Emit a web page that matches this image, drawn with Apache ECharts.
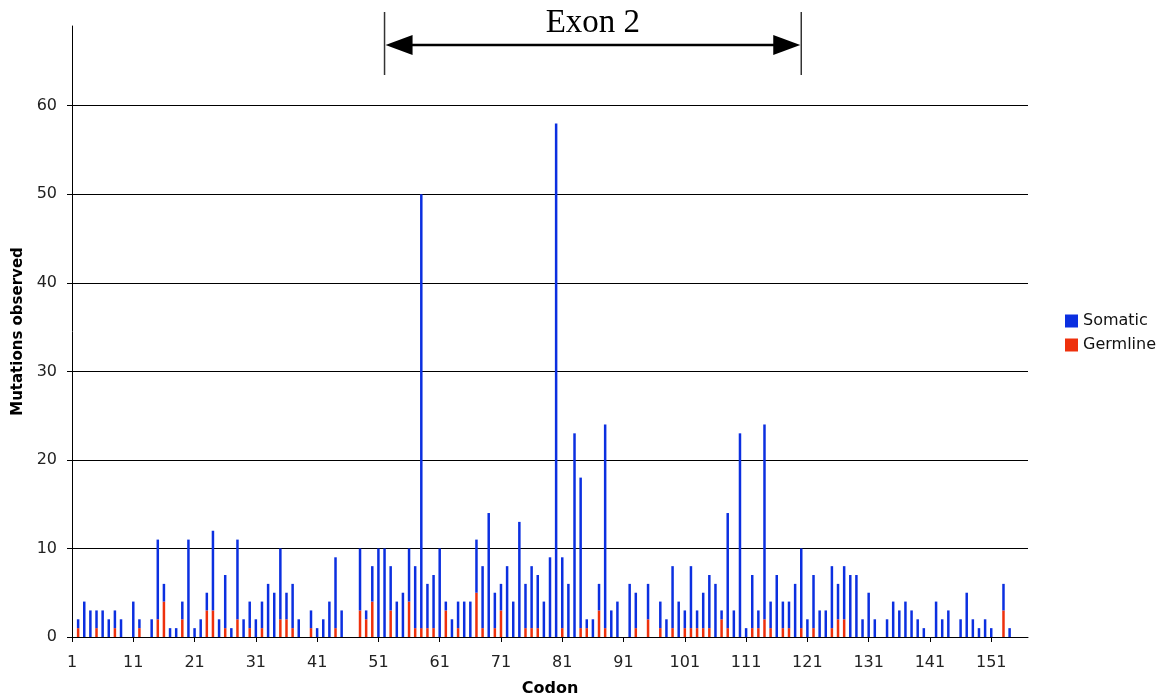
<!DOCTYPE html>
<html>
<head>
<meta charset="utf-8">
<script src="https://cdn.jsdelivr.net/npm/echarts@6/dist/echarts.min.js"></script>
<style>html,body{margin:0;padding:0;background:#fff}#c{width:1169px;height:696px}</style>
</head>
<body>
<div id="c"></div>
<script>
// Codons 1..157
const codons = Array.from({length: 157}, (_, i) => String(i + 1));
const somatic = [
  0,1,4,3,2,3,2,2,2,0,
  4,1,0,2,9,2,1,1,2,11,
  1,2,2,9,2,6,1,9,2,3,
  2,3,6,5,8,3,5,2,0,2,
  1,2,4,8,3,0,0,7,1,4,
  10,10,5,4,5,6,7,49,5,6,
  10,1,2,3,4,4,6,7,14,4,
  3,8,4,13,5,7,6,4,9,58,
  8,6,23,17,1,2,3,23,3,4,
  0,6,4,0,4,0,3,2,7,4,
  2,7,2,4,6,6,1,13,3,23,
  1,6,2,22,3,7,3,3,6,9,
  2,6,3,3,7,4,6,7,7,2,
  5,2,0,2,4,3,4,3,2,1,
  0,4,2,3,0,2,5,2,1,2,
  1,0,3,1,0,0,0
];
const germline = [
  0,1,0,0,1,0,0,1,0,0,
  0,1,0,0,2,4,0,0,2,0,
  0,0,3,3,0,1,0,2,0,1,
  0,1,0,0,2,2,1,0,0,1,
  0,0,0,1,0,0,0,3,2,4,
  0,0,3,0,0,4,1,1,1,1,
  0,3,0,1,0,0,5,1,0,1,
  3,0,0,0,1,1,1,0,0,0,
  1,0,0,1,1,0,3,1,0,0,
  0,0,1,0,2,0,1,0,1,0,
  1,1,1,1,1,0,2,1,0,0,
  0,1,1,2,1,0,1,1,0,1,
  0,1,0,0,1,2,2,0,0,0,
  0,0,0,0,0,0,0,0,0,0,
  0,0,0,0,0,0,0,0,0,0,
  0,0,3,0,0,0,0
];
const yTicks = [0, 10, 20, 30, 40, 50, 60];
const exonSpan = ['52', '120'];
const exonLabel = 'Exon 2';

const BLUE = '#0b2fe0';
const RED = '#ee300c';
const chart = echarts.init(document.getElementById('c'), null, {renderer: 'canvas'});
const option = {
  animation: false,
  textStyle: {fontFamily: 'DejaVu Sans'},
  grid: {left: 72, right: 141, top: 26, bottom: 59, containLabel: false, outerBoundsMode: 'none'},
  legend: {
    orient: 'vertical', left: 1060, top: 307,
    itemWidth: 13, itemHeight: 13, itemGap: 6,
    icon: 'rect',
    data: ['Somatic', 'Germline'],
    textStyle: {fontFamily: 'DejaVu Sans', fontSize: 16, lineHeight: 18, color: '#111'}
  },
  xAxis: {
    type: 'category', data: codons, boundaryGap: false,
    name: 'Codon', nameLocation: 'middle', nameGap: 44,
    nameTextStyle: {fontFamily: 'DejaVu Sans', fontWeight: 'bold', fontSize: 16, color: '#000'},
    axisLine: {lineStyle: {color: '#000', width: 1}},
    axisTick: {interval: 9, length: 5, lineStyle: {color: '#000'}},
    axisLabel: {interval: 9, fontSize: 16, color: '#222', margin: 18},
    splitLine: {show: false}
  },
  yAxis: {
    type: 'value', min: 0, max: 69,
    name: 'Mutations observed', nameLocation: 'middle', nameGap: 43, nameRotate: 90,
    nameTextStyle: {fontFamily: 'DejaVu Sans', fontWeight: 'bold', fontSize: 15, color: '#000'},
    axisLine: {show: true, lineStyle: {color: '#000', width: 1}},
    axisTick: {show: true, length: 5, customValues: yTicks, lineStyle: {color: '#000'}},
    axisLabel: {fontSize: 16, color: '#222', margin: 15, customValues: yTicks, padding: [4, 0, 0, 0]},
    splitLine: {show: true, lineStyle: {color: '#000', width: 1}}
  },
  series: [
    {name: 'Germline', type: 'bar', stack: 'm', data: germline, barWidth: 2.5,
     itemStyle: {color: RED}},
    {name: 'Somatic', type: 'bar', stack: 'm', data: somatic, barWidth: 2.5,
     itemStyle: {color: BLUE}}
  ]
};
chart.setOption(option);

// Exon annotation positioned from the category axis
const xa = chart.convertToPixel({xAxisIndex: 0}, exonSpan[0]);
const xb = chart.convertToPixel({xAxisIndex: 0}, exonSpan[1]);
const ay = 45, ah = 27, aw = 10;
chart.setOption({
  graphic: [
    {type: 'line', shape: {x1: xa, y1: 12, x2: xa, y2: 75}, style: {stroke: '#333', lineWidth: 1.5}},
    {type: 'line', shape: {x1: xb, y1: 12, x2: xb, y2: 75}, style: {stroke: '#333', lineWidth: 1.5}},
    {type: 'line', shape: {x1: xa + 10, y1: ay, x2: xb - 10, y2: ay}, style: {stroke: '#000', lineWidth: 2.5}},
    {type: 'polygon', shape: {points: [[xa + 1, ay], [xa + 1 + ah, ay - aw], [xa + 1 + ah, ay + aw]]}, style: {fill: '#000'}},
    {type: 'polygon', shape: {points: [[xb - 1, ay], [xb - 1 - ah, ay - aw], [xb - 1 - ah, ay + aw]]}, style: {fill: '#000'}},
    {type: 'text', x: (xa + xb) / 2, y: 23, style: {text: exonLabel, fontFamily: 'Liberation Serif', fontSize: 33, fill: '#000', align: 'center', verticalAlign: 'middle'}}
  ]
});
</script>
</body>
</html>
